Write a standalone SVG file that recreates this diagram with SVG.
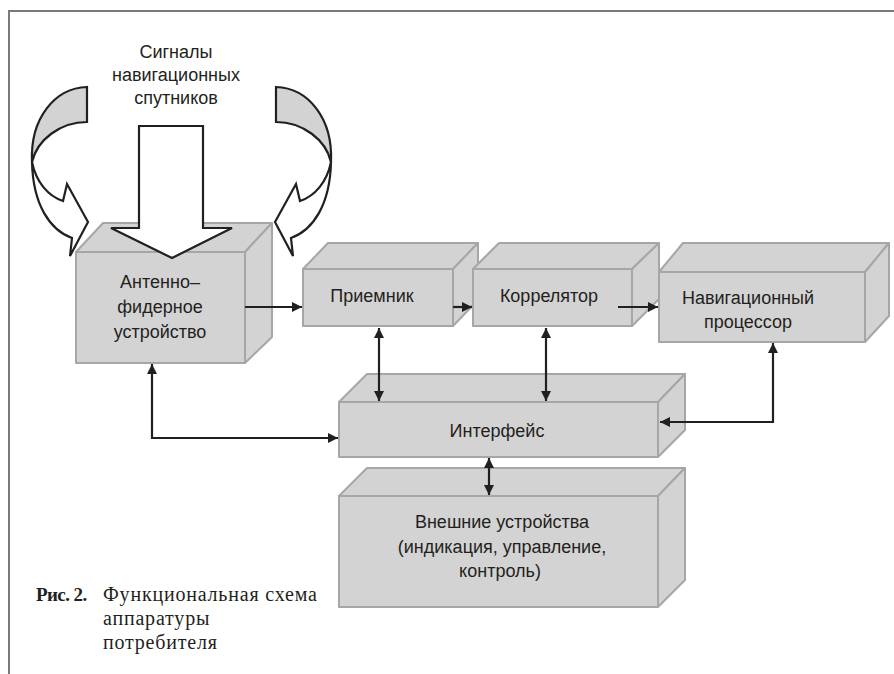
<svg xmlns="http://www.w3.org/2000/svg" width="894" height="674" viewBox="0 0 894 674">
  <style>
    .face { fill: #d3d3d3; stroke: #a6a6a6; stroke-width: 2; stroke-linejoin: round; }
    .lbl { font-family: "Liberation Sans", "DejaVu Sans", sans-serif; font-size: 18px; fill: #231f20; text-anchor: middle; }
    .cap { font-family: "Liberation Serif", "DejaVu Serif", serif; font-size: 20px; fill: #231f20; letter-spacing: 0.8px; }
    .cap-num { font-weight: bold; font-size: 19px; letter-spacing: -0.6px; }
    .big { fill: #ffffff; stroke: #231f20; stroke-width: 2.2; stroke-linejoin: miter; }
    .back { fill: #d3d3d3; stroke: #231f20; stroke-width: 2.2; stroke-linejoin: miter; }
    .link { fill: none; stroke: #231f20; stroke-width: 2.2; }
  </style>
  <defs>
    <marker id="tip" viewBox="0 0 10 10" refX="10" refY="5" markerWidth="10" markerHeight="10" markerUnits="userSpaceOnUse" orient="auto-start-reverse">
      <path d="M0,0 L10,5 L0,10 Z" fill="#231f20"/>
    </marker>
    <!-- curved incoming-signal arrow (left-hand variant) -->
    <g id="curl">
      <path class="back" d="M87,87 L87,122 C60,122 37,140 32,162 C30,118 55,88 87,87 Z"/>
      <path class="big" d="M32,162 C36,182 48,196 63,201 L67,184 L88,222 L70,256 L72,238 C50,230 33,205 32,162 Z"/>
    </g>
  </defs>

  <rect width="894" height="674" fill="#ffffff"/>

  <!-- frame -->
  <path d="M9,674 L9,11 L894,11" fill="none" stroke="#7a7a7a" stroke-width="2"/>

  <!-- satellite signal caption -->
  <g id="signals">
    <text class="lbl" x="176" y="58">Сигналы</text>
    <text class="lbl" x="176" y="81">навигационных</text>
    <text class="lbl" x="176" y="104">спутников</text>
  </g>

  <!-- antenna-feeder unit -->
  <g id="antenna">
    <polygon class="face" points="76,252 103,223 272,223 245,252"/>
    <polygon class="face" points="245,252 272,223 272,337 245,363"/>
    <rect class="face" x="76" y="252" width="169" height="111"/>
    <text class="lbl" x="160" y="288">Антенно–</text>
    <text class="lbl" x="160" y="313">фидерное</text>
    <text class="lbl" x="160" y="338">устройство</text>
  </g>

  <!-- incoming signal arrows -->
  <g id="signal-arrows">
    <path class="big" d="M139,126 L203,126 L203,228 L232,228 L172,258 L111,228 L139,228 Z"/>
    <use href="#curl"/>
    <use href="#curl" transform="translate(363,0) scale(-1,1)"/>
  </g>

  <!-- receiver -->
  <g id="receiver">
    <polygon class="face" points="303,269 328,243 478,243 453,269"/>
    <polygon class="face" points="453,269 478,243 478,300 453,326"/>
    <rect class="face" x="303" y="269" width="150" height="57"/>
    <text class="lbl" x="372" y="302">Приемник</text>
  </g>

  <!-- correlator -->
  <g id="correlator">
    <polygon class="face" points="473,269 499,243 659,243 632,269"/>
    <polygon class="face" points="632,269 659,243 659,299 632,326"/>
    <rect class="face" x="473" y="269" width="159" height="57"/>
    <text class="lbl" x="549" y="302">Коррелятор</text>
  </g>

  <!-- navigation processor -->
  <g id="nav-processor">
    <polygon class="face" points="659,272 683,243 889,243 865,272"/>
    <polygon class="face" points="865,272 889,243 889,316 865,342"/>
    <rect class="face" x="659" y="272" width="206" height="70"/>
    <text class="lbl" x="748" y="304">Навигационный</text>
    <text class="lbl" x="748" y="328">процессор</text>
  </g>

  <!-- interface -->
  <g id="interface">
    <polygon class="face" points="339,402 367,374 685,374 658,402"/>
    <polygon class="face" points="658,402 685,374 685,430 658,457"/>
    <rect class="face" x="339" y="402" width="319" height="55"/>
    <text class="lbl" x="497" y="437">Интерфейс</text>
  </g>

  <!-- external devices -->
  <g id="external">
    <polygon class="face" points="339,496 367,468 685,468 658,496"/>
    <polygon class="face" points="658,496 685,468 685,580 658,607"/>
    <rect class="face" x="339" y="496" width="319" height="111"/>
    <text class="lbl" x="502" y="528">Внешние устройства</text>
    <text class="lbl" x="502" y="553">(индикация, управление,</text>
    <text class="lbl" x="500" y="577">контроль)</text>
  </g>

  <!-- connectors -->
  <g id="connectors">
    <path class="link" d="M245,307 L302,307" marker-end="url(#tip)"/>
    <path class="link" d="M453,307 L472,307" marker-end="url(#tip)"/>
    <path class="link" d="M618,307 L658,307" marker-end="url(#tip)"/>
    <path class="link" d="M379,328 L379,401" marker-start="url(#tip)" marker-end="url(#tip)"/>
    <path class="link" d="M546,328 L546,401" marker-start="url(#tip)" marker-end="url(#tip)"/>
    <path class="link" d="M773,343 L773,422 L660,422" marker-start="url(#tip)" marker-end="url(#tip)"/>
    <path class="link" d="M152,364 L152,438 L338,438" marker-start="url(#tip)" marker-end="url(#tip)"/>
    <path class="link" d="M489,458 L489,495" marker-start="url(#tip)" marker-end="url(#tip)"/>
  </g>

  <!-- figure caption -->
  <g id="caption">
    <text class="cap cap-num" x="36" y="601">Рис. 2.</text>
    <text class="cap" x="103" y="601">Функциональная схема</text>
    <text class="cap" x="103" y="625">аппаратуры</text>
    <text class="cap" x="103" y="649">потребителя</text>
  </g>
</svg>
